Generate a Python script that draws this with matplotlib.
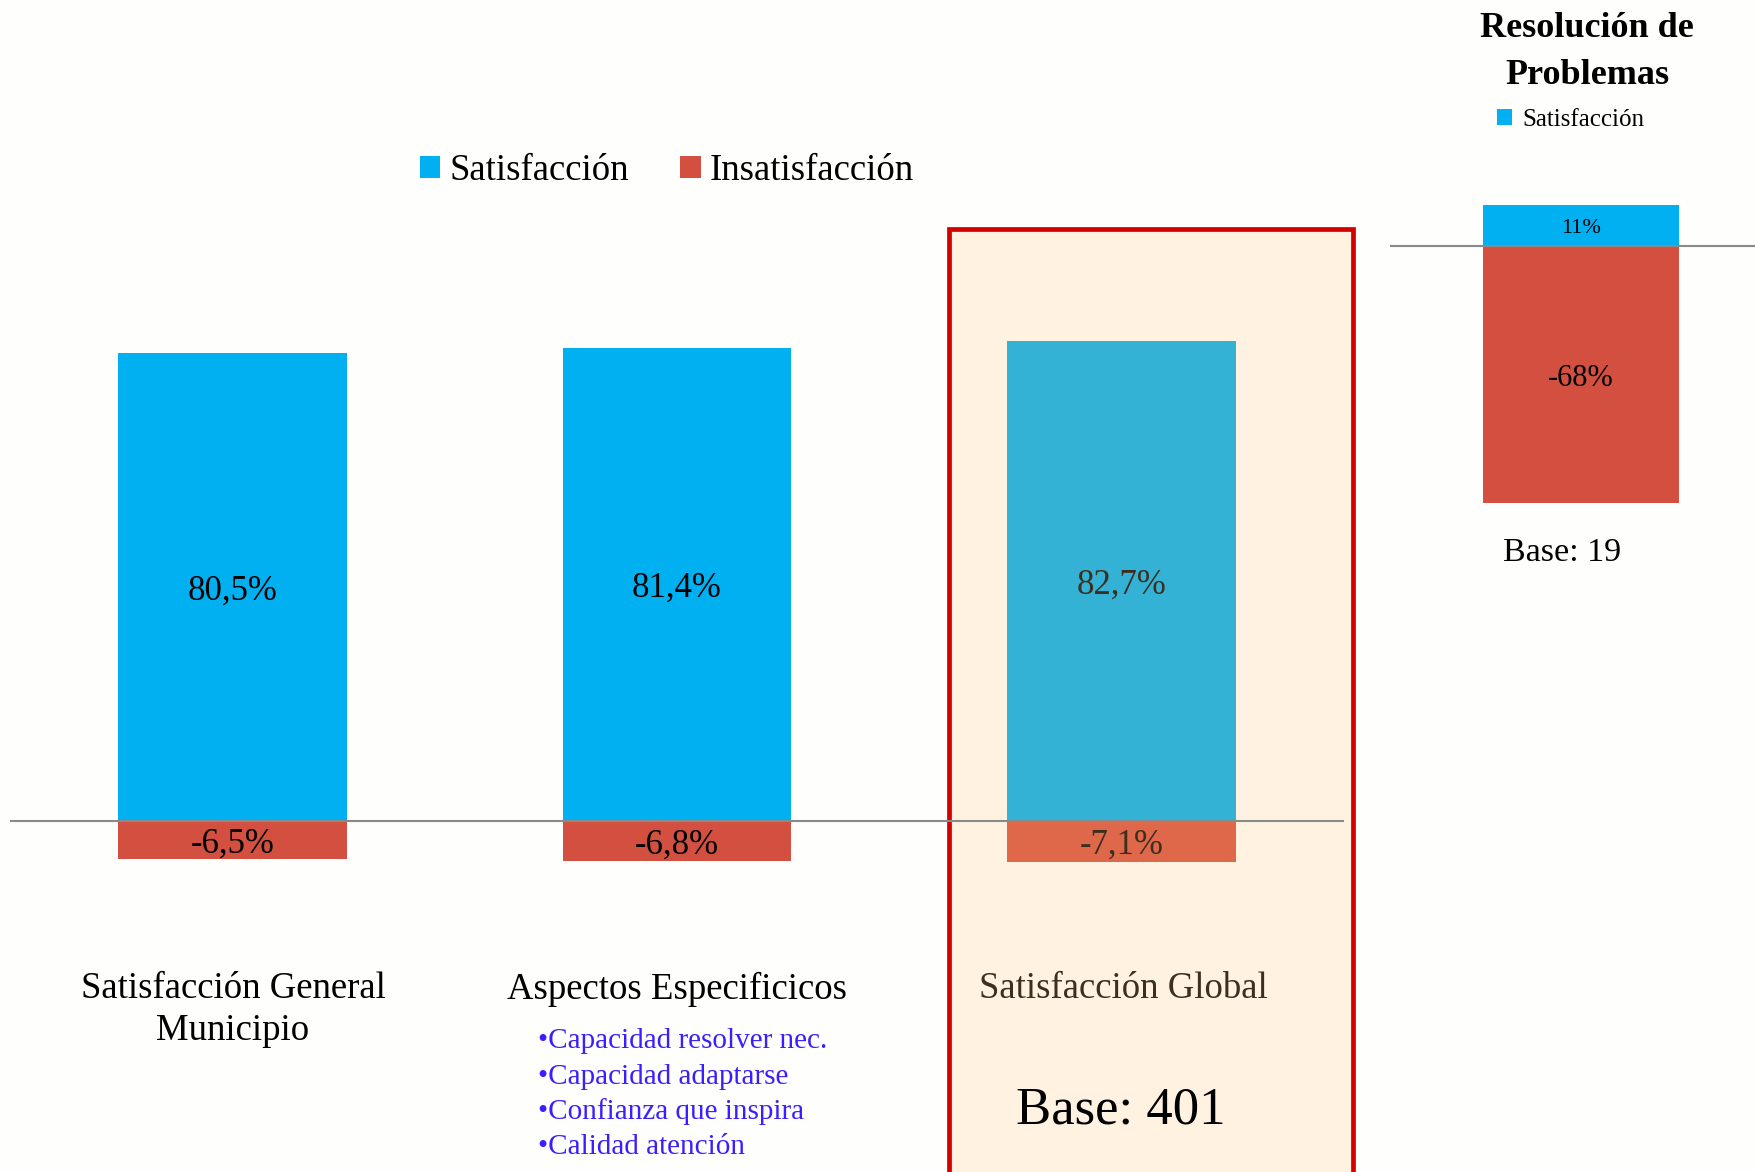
import matplotlib
matplotlib.use("Agg")
import matplotlib.pyplot as plt
from matplotlib.patches import Rectangle, Patch

# ---- data ----
categories = ["Satisfacción General\nMunicipio", "Aspectos Especificicos", "Satisfacción Global"]
satisfaccion = [80.5, 81.4, 82.7]
insatisfaccion = [-6.5, -6.8, -7.1]
sat_labels = ["80,5%", "81,4%", "82,7%"]
ins_labels = ["-6,5%", "-6,8%", "-7,1%"]
aspectos = ["•Capacidad resolver nec.", "•Capacidad adaptarse",
            "•Confianza que inspira", "•Calidad atención"]
base_main = "Base: 401"

rp_title = "Resolución de\nProblemas"
rp_sat = [11]
rp_ins = [-68]
rp_sat_labels = ["11%"]
rp_ins_labels = ["-68%"]
base_rp = "Base: 19"

W, H = 1756, 1172
plt.rcParams['font.family'] = ['Liberation Serif', 'DejaVu Serif']

BLUE = "#00B0F0"
RED = "#D35041"
BLUE_HL = "#33B2D5"
RED_HL = "#DF684B"
TXT_HL = "#3B3020"

fig = plt.figure(figsize=(W / 100, H / 100), dpi=100, facecolor="#FEFEFD")

def fx(px):
    return px / W

def fy(py):
    return 1 - py / H

# highlight box (behind the main axes)
box = Rectangle((fx(949), fy(1185)), fx(1353) - fx(949), fy(229) - fy(1185),
                transform=fig.transFigure, facecolor="#FFF2E0", edgecolor="#D40000",
                linewidth=3.4, zorder=-1)
fig.patches.append(box)

# ---- main axes ----
ax = fig.add_axes([fx(10), 0, fx(1344) - fx(10), 1])
ax.set_facecolor("none")
px_per_pct = 5.81
ax.set_xlim(-0.5, 2.5)
ax.set_ylim(-(H - 821) / px_per_pct, 821 / px_per_pct)
ax.axis("off")

x = list(range(len(categories)))
bw = 0.514
sat_colors = [BLUE, BLUE, BLUE_HL]
ins_colors = [RED, RED, RED_HL]
txt_colors = ["black", "black", TXT_HL]
ax.bar(x, satisfaccion, width=bw, color=sat_colors, zorder=2)
ax.bar(x, insatisfaccion, width=bw, color=ins_colors, zorder=2)
ax.axhline(0, color="#8A8A8A", linewidth=1.5, zorder=3)
for i in x:
    ax.text(i, satisfaccion[i] / 2, sat_labels[i], ha="center", va="center_baseline",
            fontsize=25, color=txt_colors[i], zorder=4)
    ax.text(i, insatisfaccion[i] / 2, ins_labels[i], ha="center", va="center_baseline",
            fontsize=25, color=txt_colors[i], zorder=4)

# category labels
cat_x = [233, 677, 1123]
for i, c in enumerate(categories):
    fig.text(fx(cat_x[i]), fy(972), c, ha="center", va="top", fontsize=26.5,
             color=txt_colors[i], linespacing=1.27)

# aspectos bullets
for j, t in enumerate(aspectos):
    fig.text(fx(538), fy(1041 + j * 35.5), t, ha="left", va="center",
             fontsize=21, color="#3A1EFF")

fig.text(fx(1121), fy(1110), base_main, ha="center", va="center", fontsize=38)

# main legend
handles = [Patch(facecolor=BLUE, label="Satisfacción"),
           Patch(facecolor=RED, label="Insatisfacción")]
fig.legend(handles=handles, loc="center", bbox_to_anchor=(fx(667), fy(171)),
           ncol=2, frameon=False, fontsize=26.5, handlelength=0.55, handleheight=0.55,
           handletextpad=0.25, columnspacing=1.4)

# ---- right panel ----
ax2 = fig.add_axes([fx(1390), 0, 1 - fx(1390), 1])
ax2.set_facecolor("none")
rp_scale = 3.77
ax2.set_xlim(-191 / 392, 175 / 392)
ax2.set_ylim(-(H - 246.5) / rp_scale, 246.5 / rp_scale)
ax2.axis("off")
ax2.bar([0], rp_sat, width=0.5, color=BLUE, zorder=2)
ax2.bar([0], rp_ins, width=0.5, color=RED, zorder=2)
ax2.axhline(0, color="#8A8A8A", linewidth=1.5, zorder=3)
ax2.text(0, rp_sat[0] / 2, rp_sat_labels[0], ha="center", va="center_baseline",
         fontsize=16, zorder=4)
ax2.text(0, rp_ins[0] / 2, rp_ins_labels[0], ha="center", va="center_baseline",
         fontsize=22, zorder=4)

fig.text(fx(1587), fy(52), rp_title, ha="center", va="center", fontsize=26,
         fontweight="bold", linespacing=1.55)
fig.legend(handles=[Patch(facecolor=BLUE, label="Satisfacción")], loc="center",
           bbox_to_anchor=(fx(1571), fy(120)), frameon=False, fontsize=18,
           handlelength=0.6, handleheight=0.6, handletextpad=0.4)
fig.text(fx(1562), fy(553), base_rp, ha="center", va="center", fontsize=24.5)

fig.savefig("out.png", dpi=100, facecolor=fig.get_facecolor())
